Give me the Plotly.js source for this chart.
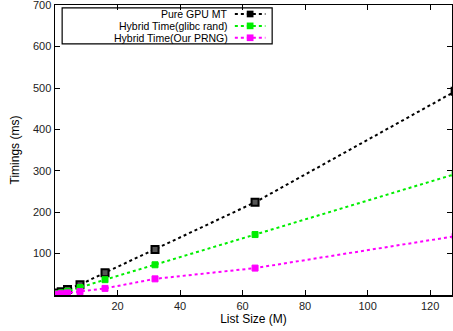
<!DOCTYPE html>
<html>
<head>
<script src="https://cdn.plot.ly/plotly-3.0.1.min.js"></script>
<style>html,body{margin:0;padding:0;background:#fff;}#chart{width:453px;height:331px;}</style>
</head>
<body>
<div id="chart"></div>
<script>
var listSizes = [1, 2, 4, 8, 16, 32, 64, 128];
var pureGpuMT = [5, 8, 13, 25, 54, 110, 224, 492];
var hybridGlibc = [3, 5, 9, 18, 37, 73, 146, 292];
var hybridOurPRNG = [2, 3, 5, 8, 16, 39, 65, 142];
var seriesNames = ["Pure GPU MT", "Hybrid Time(glibc rand)", "Hybrid Time(Our PRNG)"];
var seriesColors = ["#000000", "#00ee00", "#ff00ff"];
var xTicks = [20, 40, 60, 80, 100, 120];
var yTicks = [100, 200, 300, 400, 500, 600, 700];

var allY = [pureGpuMT, hybridGlibc, hybridOurPRNG];
var markerSizes = [7, 6, 6];
var traces = allY.map(function (ys, i) {
  return {
    x: listSizes, y: ys, type: 'scatter', mode: 'lines+markers',
    name: seriesNames[i], showlegend: false,
    line: {color: seriesColors[i], width: 2, dash: 'dot'},
    marker: {symbol: 'square', size: markerSizes[i], color: i === 0 ? '#555' : seriesColors[i],
             line: {color: seriesColors[i], width: i === 0 ? 2 : 1}}
  };
});

// custom gnuplot-style legend (text right-aligned, sample on the right)
var shapes = [{type: 'rect', xref: 'paper', yref: 'paper', x0: 0.018, x1: 0.547, y0: 0.866, y1: 0.990,
               line: {color: '#000', width: 1.2}, fillcolor: 'rgba(0,0,0,0)'}];
var annotations = [];
var rowY = [0.969, 0.928, 0.887];
seriesNames.forEach(function (n, i) {
  annotations.push({xref: 'paper', yref: 'paper', x: 0.438, y: rowY[i], text: n, showarrow: false,
                    xanchor: 'right', yanchor: 'middle', borderpad: 0,
                    font: {family: 'Liberation Sans, Arial', size: 10.5, color: '#000'}});
  shapes.push({type: 'line', xref: 'paper', yref: 'paper', x0: 0.453, x1: 0.530, y0: rowY[i], y1: rowY[i],
               line: {color: seriesColors[i], width: 2, dash: 'dot'}});
  var hw = 0.0085, hh = 0.0115;
  shapes.push({type: 'rect', xref: 'paper', yref: 'paper', x0: 0.4915 - hw, x1: 0.4915 + hw,
               y0: rowY[i] - hh, y1: rowY[i] + hh, line: {color: seriesColors[i], width: 0}, fillcolor: seriesColors[i]});
});

var axisCommon = {
  showline: true, linecolor: '#000', linewidth: 1.5, mirror: 'ticks',
  ticks: 'inside', ticklen: 5, tickcolor: '#000', tickwidth: 1,
  showgrid: false, zeroline: false, ticklabeloverflow: 'allow',
  tickfont: {family: 'Liberation Sans, Arial', size: 11, color: '#222'}
};

var layout = {
  width: 453, height: 331,
  margin: {l: 55, r: 1, t: 5, b: 36},
  paper_bgcolor: '#fff', plot_bgcolor: '#fff',
  font: {family: 'Liberation Sans, Arial', color: '#000'},
  xaxis: Object.assign({}, axisCommon, {
    range: [0, 127], tickmode: 'array', tickvals: xTicks, ticktext: xTicks.map(String),
    title: {text: 'List Size (M)', font: {size: 12, color: '#000'}, standoff: 4}
  }),
  yaxis: Object.assign({}, axisCommon, {
    range: [0, 700.5], tickmode: 'array', tickvals: yTicks, ticktext: yTicks.map(String),
    title: {text: 'Timings (ms)', font: {size: 12, color: '#000'}, standoff: 10}
  }),
  shapes: shapes, annotations: annotations, showlegend: false
};

Plotly.newPlot('chart', traces, layout, {displayModeBar: false, staticPlot: true});
</script>
</body>
</html>
